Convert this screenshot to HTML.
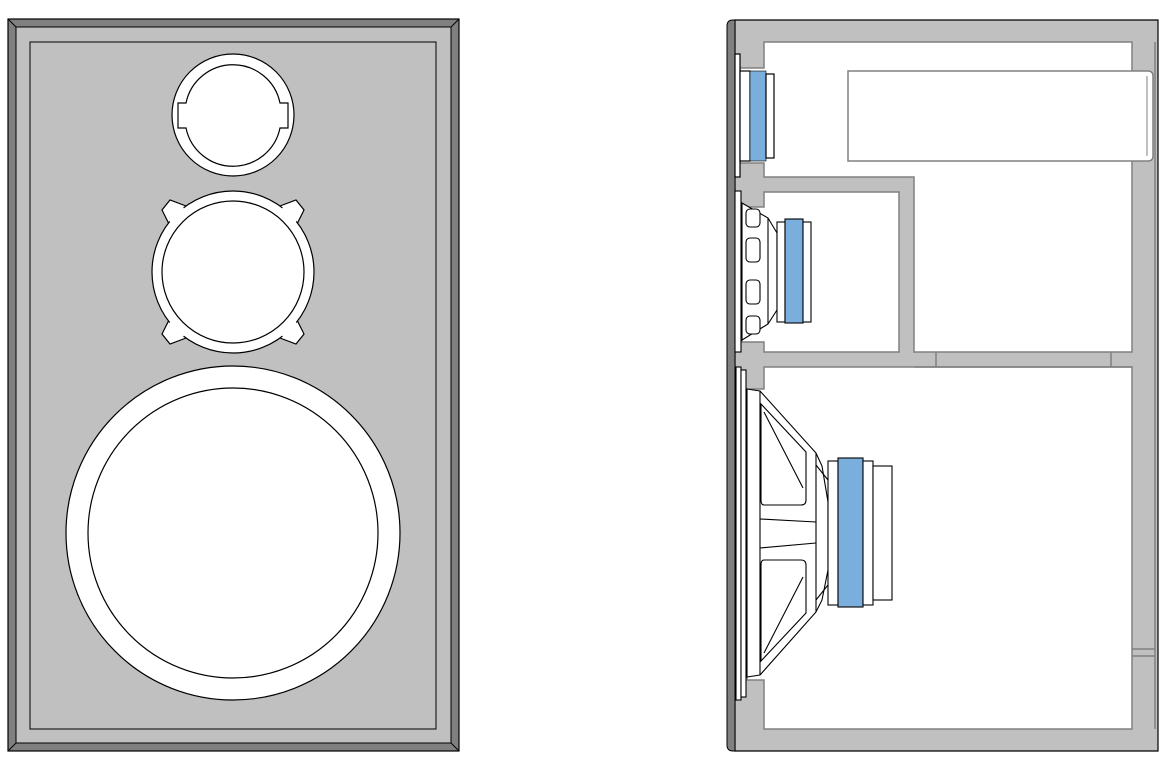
<!DOCTYPE html>
<html><head><meta charset="utf-8"><style>html,body{margin:0;padding:0;background:#fff}svg{display:block}</style></head>
<body>
<svg width="1167" height="766" viewBox="0 0 1167 766" xmlns="http://www.w3.org/2000/svg">
<!-- FRONT VIEW -->
<rect x="8" y="19" width="451" height="732" fill="#808080" stroke="#000" stroke-width="1.2"/>
<rect x="16" y="27" width="435" height="716" fill="#c0c0c0" stroke="#000" stroke-width="1"/>
<line x1="8" y1="19" x2="16" y2="27" stroke="#000"/><line x1="459" y1="19" x2="451" y2="27" stroke="#000"/>
<line x1="8" y1="751" x2="16" y2="743" stroke="#000"/><line x1="459" y1="751" x2="451" y2="743" stroke="#000"/>
<rect x="30" y="42" width="406" height="687" fill="none" stroke="#000" stroke-width="1"/>
<!-- tweeter -->
<circle cx="233" cy="115" r="61" fill="#fff" stroke="#000" stroke-width="1.2"/>
<path d="M186,103 A48,48 0 0 1 280,103 L288,103 L288,128 L280,128 A48,48 0 0 1 186,128 L178,128 L178,103 Z" fill="#fff" stroke="#000" stroke-width="1.2"/>
<!-- mid -->
<g stroke="#000" stroke-width="1.2" fill="#fff">
<polygon points="186,206 170,200 162,210 170,226"/>
<polygon points="280,206 296,200 304,210 296,226"/>
<polygon points="186,338 170,344 162,334 170,318"/>
<polygon points="280,338 296,344 304,334 296,318"/>
<circle cx="233" cy="272" r="81"/>
</g>
<g fill="#fff">
<polygon points="184,208 171,202 164,210 171,224 180,215"/>
<polygon points="282,208 295,202 302,210 295,224 286,215"/>
<polygon points="184,336 171,342 164,334 171,320 180,329"/>
<polygon points="282,336 295,342 302,334 295,320 286,329"/>
</g>
<circle cx="233" cy="272" r="71" fill="#fff" stroke="#000" stroke-width="1.2"/>
<!-- woofer -->
<circle cx="233" cy="533" r="167" fill="#fff" stroke="#000" stroke-width="1.2"/>
<circle cx="233" cy="533" r="145" fill="#fff" stroke="#000" stroke-width="1.2"/>

<!-- SIDE VIEW -->
<path d="M735,20 L1158,20 L1158,751 L735,751 Z" fill="#c0c0c0" stroke="#000" stroke-width="1.2"/>
<path d="M735,20 L735,751 L733,751 Q727,751 727,745 L727,26 Q727,20 733,20 Z" fill="#808080" stroke="#000" stroke-width="1"/>
<line x1="1155" y1="42" x2="1155" y2="729" stroke="#808080" stroke-width="1.5"/>
<!-- upper chamber -->
<path d="M764,42 L1132,42 L1132,352 L914,352 L914,177 L764,177 L764,163 L740,163 L740,68 L764,68 Z" fill="#fff" stroke="#808080" stroke-width="1.5"/>
<!-- mid chamber -->
<path d="M764,192 L899,192 L899,352 L764,352 L764,342 L742,342 L742,207 L764,207 Z" fill="#fff" stroke="#808080" stroke-width="1.5"/>
<!-- lower chamber -->
<path d="M764,367 L1132,367 L1132,729 L764,729 L764,680 L747,680 L747,389 L764,389 Z" fill="#fff" stroke="#808080" stroke-width="1.5"/>
<line x1="914" y1="367" x2="1132" y2="367" stroke="#808080" stroke-width="1.5"/>
<line x1="936" y1="352" x2="936" y2="367" stroke="#808080" stroke-width="1.5"/>
<line x1="1111" y1="352" x2="1111" y2="367" stroke="#808080" stroke-width="1.5"/>
<line x1="1132" y1="649" x2="1155" y2="649" stroke="#808080" stroke-width="1.5"/>
<line x1="1132" y1="656" x2="1155" y2="656" stroke="#808080" stroke-width="1.5"/>
<!-- port tube -->
<path d="M848,71 L1148,71 Q1153,71 1153,76 L1153,156 Q1153,161 1148,161 L848,161 Z" fill="#fff" stroke="#808080" stroke-width="1.5"/>
<line x1="1147" y1="76" x2="1147" y2="156" stroke="#808080" stroke-width="1"/>
<!-- tweeter side -->
<g stroke="#000" stroke-width="1.2">
<rect x="735" y="54" width="5" height="123" fill="#fff"/>
<rect x="740" y="71" width="10" height="90" fill="#fff"/>
<rect x="750" y="71" width="16" height="90" fill="#7aaedd" stroke-width="0.6"/>
<rect x="766" y="74" width="8" height="84" fill="#fff"/>
</g>
<!-- mid side -->
<g stroke="#000" stroke-width="1.1" fill="#fff">
<rect x="735" y="191" width="6" height="161"/>
<polygon points="742,203 768,218 777,233 777,310 768,324 742,340"/>
<line x1="768" y1="218" x2="768" y2="324"/>
<rect x="746" y="209" width="14" height="18" rx="4"/>
<rect x="746" y="238" width="14" height="24" rx="4"/>
<rect x="746" y="280" width="14" height="24" rx="4"/>
<rect x="746" y="316" width="14" height="18" rx="4"/>
<rect x="777" y="222" width="8" height="100"/>
<rect x="785" y="219" width="18" height="104" fill="#7aaedd"/>
<rect x="803" y="222" width="8" height="100"/>
</g>
<!-- woofer side -->
<g stroke="#000" stroke-width="1.1" fill="#fff">
<rect x="736" y="367" width="5" height="333"/>
<rect x="741" y="370" width="5" height="327"/>
<polygon points="747,389 760,391 816,453 822,466 828,502 828,570 822,600 816,612 760,675 747,677"/>
<line x1="760" y1="391" x2="760" y2="675"/>
<line x1="816" y1="453" x2="816" y2="612"/>
<line x1="816" y1="465" x2="828" y2="480"/>
<line x1="816" y1="600" x2="828" y2="585"/>
<path d="M761,404 L806,452 L806,500 Q806,505 801,505 L764,505 Q761,505 761,500 Z"/>
<path d="M761,661 L806,613 L806,565 Q806,560 801,560 L764,560 Q761,560 761,565 Z"/>
<line x1="764" y1="412" x2="803" y2="488"/>
<line x1="764" y1="653" x2="803" y2="577"/>
<line x1="760" y1="519" x2="816" y2="522"/>
<line x1="760" y1="548" x2="816" y2="543"/>
<rect x="828" y="461" width="10" height="144"/>
<rect x="838" y="458" width="25" height="149" fill="#7aaedd"/>
<rect x="863" y="461" width="10" height="144"/>
<rect x="873" y="466" width="19" height="134"/>
</g>
</svg>
</body></html>
